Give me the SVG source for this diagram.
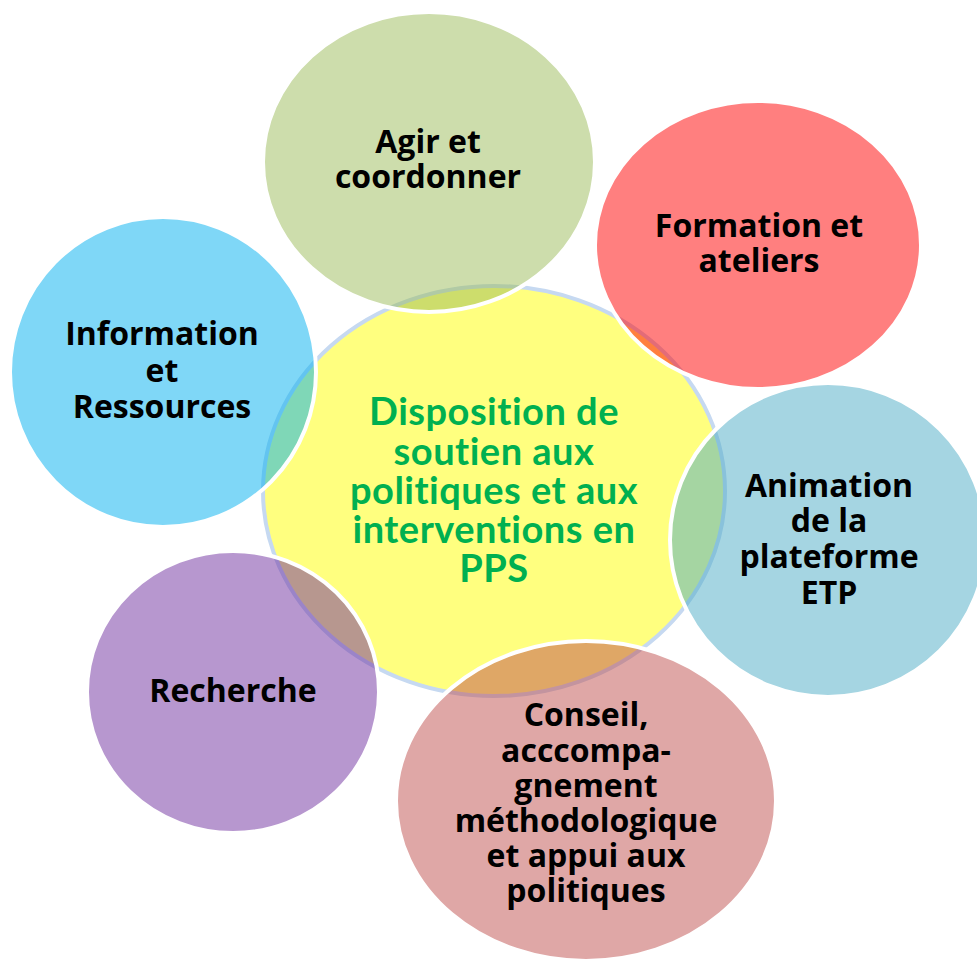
<svg xmlns="http://www.w3.org/2000/svg" width="977" height="962" viewBox="0 0 977 962">
<style>
.bg{fill:#ffffff}
.o{stroke:#ffffff;stroke-width:4}
.t{font-family:"Open Sans",Lato,"Liberation Sans",sans-serif;font-weight:700;font-size:32px;fill:#000000;text-anchor:middle}
.c{font-family:Lato,"Open Sans","Liberation Sans",sans-serif;font-weight:700;font-size:38px;letter-spacing:0.5px;fill:#00B050;text-anchor:middle}
</style>
<rect class="bg" x="0" y="0" width="977" height="962"/>
<g id="center">
<ellipse cx="494" cy="491" rx="231" ry="205" fill="#FFFF00" fill-opacity="0.5" stroke="#C6D9F1" stroke-width="4"/>
</g>
<g id="agir">
<ellipse class="o" cx="429" cy="162" rx="166" ry="150" fill="#9BBB59" fill-opacity="0.5"/>
<text class="t" x="428" y="153">Agir et</text>
<text class="t" x="428" y="188">coordonner</text>
</g>
<g id="formation">
<ellipse class="o" cx="758" cy="245" rx="163" ry="144" fill="#FF0000" fill-opacity="0.5"/>
<text class="t" x="759" y="237">Formation et</text>
<text class="t" x="759" y="272">ateliers</text>
</g>
<g id="animation">
<ellipse class="o" cx="828" cy="540" rx="158" ry="157" fill="#4BACC6" fill-opacity="0.5"/>
<text class="t" x="829" y="497">Animation</text>
<text class="t" x="829" y="532">de la</text>
<text class="t" x="829" y="568">plateforme</text>
<text class="t" x="829" y="604">ETP</text>
</g>
<g id="conseil">
<ellipse class="o" cx="586" cy="801" rx="190" ry="160" fill="#C0504D" fill-opacity="0.5"/>
<text class="t" x="586" y="726">Conseil,</text>
<text class="t" x="586" y="762">acccompa-</text>
<text class="t" x="586" y="797">gnement</text>
<text class="t" x="586" y="832">méthodologique</text>
<text class="t" x="586" y="867">et appui aux</text>
<text class="t" x="586" y="902">politiques</text>
</g>
<g id="recherche">
<ellipse class="o" cx="233" cy="692" rx="146" ry="141" fill="#7030A0" fill-opacity="0.5"/>
<text class="t" x="233" y="702">Recherche</text>
</g>
<g id="information">
<ellipse class="o" cx="163" cy="372" rx="153" ry="155" fill="#00B0F0" fill-opacity="0.5"/>
<text class="t" x="162" y="345">Information</text>
<text class="t" x="162" y="382">et</text>
<text class="t" x="162" y="418">Ressources</text>
</g>
<g id="center-label">
<text class="c" x="494" y="425">Disposition de</text>
<text class="c" x="494" y="465">soutien aux</text>
<text class="c" x="494" y="504">politiques et aux</text>
<text class="c" x="494" y="543">interventions en</text>
<text class="c" x="494" y="582">PPS</text>
</g>
</svg>
